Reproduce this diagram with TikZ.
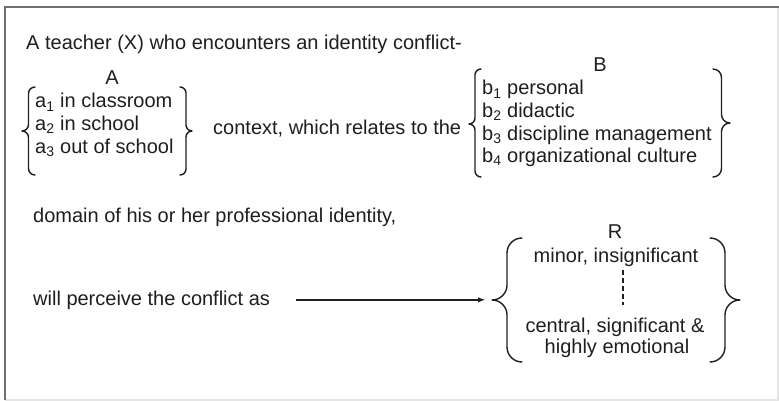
\documentclass[tikz,border=0pt]{standalone}
\usepackage{fontspec}
\setmainfont{Liberation Sans}
\usetikzlibrary{arrows, positioning}
\definecolor{tgray}{HTML}{1E1E1E}
\definecolor{fgray}{HTML}{6F6F6F}
\definecolor{lgray}{HTML}{E4E4E4}
\tikzstyle{phrase} = [anchor=base west, inner sep=0pt, text=tgray, font=\fontsize{20}{24}\selectfont]
\tikzstyle{heading} = [phrase, anchor=base]
\tikzstyle{curly} = [line width=1.4pt, draw=tgray, line cap=round, line join=round]
\tikzstyle{cable} = [line width=1.4pt, draw=tgray, ->, >=latex]
\tikzstyle{dots} = [line width=1.2pt, draw=tgray, dash pattern=on 4.5pt off 3.5pt]

\begin{document}
\begin{tikzpicture}[x=1pt, y=-1pt]
  \useasboundingbox (0,0) rectangle (779,401);
  % frame: dark on top and left, faint on the other sides
  \draw [lgray, line width=1.2pt] (778,7) -- (778,400) -- (5,400);
  \draw [fgray, line width=1.6pt] (5,400) -- (5,7) -- (779,7);

  \node (intro) [phrase] at (26,50) {A teacher (X) who encounters an identity conflict-};

  % context A
  \node (A) [heading] at (112,85) {A};
  \node (a1) [phrase] at (35,108) {a\textsubscript{1} in classroom};
  \node (a2) [phrase, below=22.6pt of a1.base west, anchor=base west] {a\textsubscript{2} in school};
  \node (a3) [phrase, below=22.6pt of a2.base west, anchor=base west] {a\textsubscript{3} out of school};
  \draw [curly, rounded corners=6.5pt] (35,87) -- (28.5,87) -- (28.5,131) -- (22,131)
        (22,131) -- (28.5,131) -- (28.5,175) -- (35,175);
  \draw [curly, rounded corners=6pt] (180,87) -- (186,87) -- (186,131) -- (192,131)
        (192,131) -- (186,131) -- (186,175) -- (180,175);

  \node (context) [phrase] at (213,135) {context, which relates to the};

  % domain B
  \node (B) [heading] at (600,72) {B};
  \node (b1) [phrase] at (482,95) {b\textsubscript{1} personal};
  \node (b2) [phrase, below=22.6pt of b1.base west, anchor=base west] {b\textsubscript{2} didactic};
  \node (b3) [phrase, below=22.6pt of b2.base west, anchor=base west] {b\textsubscript{3} discipline management};
  \node (b4) [phrase, below=22.6pt of b3.base west, anchor=base west] {b\textsubscript{4} organizational culture};
  \draw [curly, rounded corners=6pt] (481,69) -- (475,69) -- (475,124) -- (469,124)
        (469,124) -- (475,124) -- (475,177) -- (481,177);
  \draw [curly, rounded corners=8.5pt] (713,69) -- (721.5,69) -- (721.5,123) -- (730,123)
        (730,123) -- (721.5,123) -- (721.5,177) -- (713,177);

  \node (domain) [phrase] at (33,222) {domain of his or her professional identity,};
  \node (perceive) [phrase] at (33,305) {will perceive the conflict as};

  % result R
  \node (R) [heading] at (615,238) {R};
  \node (minor) [heading] at (616,262) {minor, insignificant};
  \node (central) [heading] at (615,332) {central, significant \&};
  \node (emotional) [heading] at (617,353) {highly emotional};
  \coordinate (rtip) at (492,300);
  \coordinate (mid) at (623,305);
  \draw [curly, rounded corners=15pt] (522,238) -- (507,238) -- (507,300) -- (492,300)
        (492,300) -- (507,300) -- (507,362) -- (522,362);
  \draw [curly, rounded corners=15pt] (710,238) -- (725,238) -- (725,300) -- (740,300)
        (740,300) -- (725,300) -- (725,362) -- (710,362);
  \draw [dots, shorten <=4pt] (minor.south -| mid) -- (mid);
  \draw [cable, shorten <=26pt, shorten >=7pt] (perceive.east) -- (perceive.east -| rtip);
\end{tikzpicture}
\end{document}
